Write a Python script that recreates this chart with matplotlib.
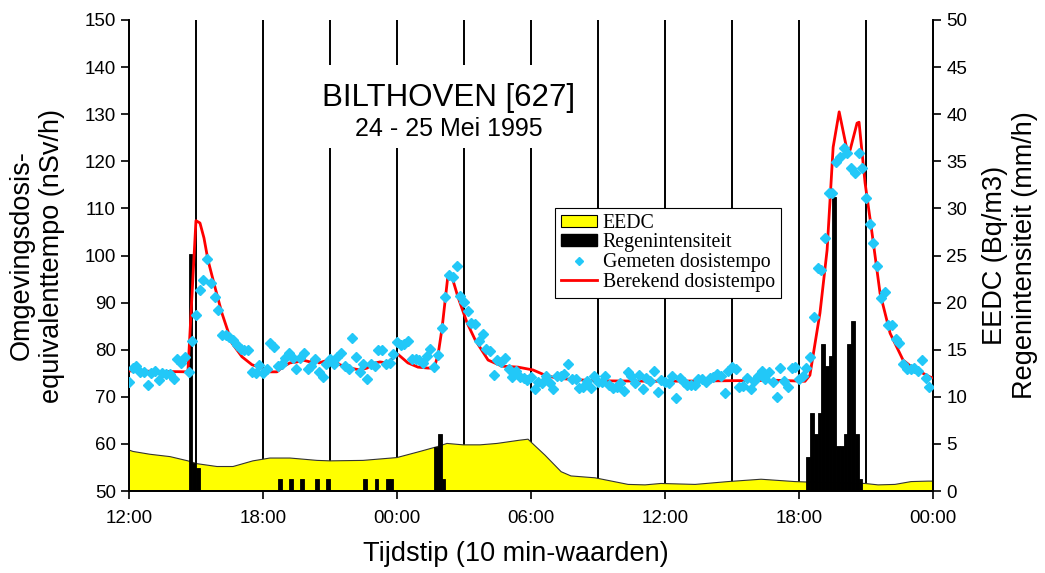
import matplotlib.pyplot as plt
from matplotlib.patches import Patch, Rectangle
from matplotlib.lines import Line2D

plt.rcParams['font.family'] = ['Liberation Sans', 'DejaVu Sans']

# gemeten dosistempo, 10-min waarden vanaf 12:00 (nSv/h)
gemeten = [
    73.2, 76.1, 76.6, 75.3, 75.3, 72.5, 75.0, 75.5, 73.6, 75.0, 74.8, 74.8, 73.8, 78.0, 77.2, 78.5, 75.3, 81.9,
    87.4, 92.7, 94.8, 99.3, 94.1, 91.1, 88.4, 83.1, 83.2, 82.8, 82.0, 80.9, 80.1, 80.0, 80.0, 75.3, 75.0, 76.8,
    75.0, 75.9, 81.4, 80.5, 76.5, 76.9, 78.2, 79.4, 78.2, 75.9, 78.2, 79.4, 75.9, 76.5, 78.0, 75.3, 74.2, 77.0,
    78.0, 77.0, 78.4, 79.2, 76.5, 75.9, 82.5, 78.4, 75.3, 77.0, 73.8, 77.0, 76.5, 80.0, 80.0, 77.0, 77.2, 79.1,
    81.6, 81.0, 81.2, 81.8, 78.0, 78.0, 77.8, 77.2, 78.7, 80.2, 76.4, 78.9, 84.6, 91.2, 95.9, 95.5, 97.8, 91.4,
    90.1, 88.2, 85.7, 85.5, 81.8, 83.3, 80.2, 79.8, 74.6, 77.8, 77.4, 78.2, 75.9, 74.2, 75.5, 74.2, 74.0, 73.6,
    74.2, 71.6, 73.1, 73.0, 74.4, 72.9, 71.6, 74.4, 74.4, 74.8, 77.0, 73.8, 73.8, 71.9, 72.0, 73.3, 71.9, 74.4,
    73.1, 73.1, 74.4, 72.5, 71.9, 72.0, 73.0, 71.3, 75.3, 74.4, 73.0, 74.6, 71.6, 73.9, 73.3, 75.5, 71.1, 73.5,
    73.1, 73.0, 74.4, 69.7, 74.0, 73.1, 72.6, 72.5, 72.6, 73.7, 73.8, 73.1, 74.0, 74.1, 74.8, 74.5, 70.8, 75.5,
    76.4, 75.8, 72.1, 72.3, 74.0, 71.6, 73.3, 74.4, 75.5, 73.8, 75.3, 73.1, 69.9, 76.1, 73.3, 72.0, 76.1, 76.4,
    73.8, 74.5, 76.1, 78.5, 87.0, 97.3, 97.0, 103.7, 113.3, 113.3, 119.9, 120.9, 122.8, 121.8, 118.6, 117.5, 121.8, 118.6,
    112.2, 106.7, 102.7, 97.8, 91.0, 92.3, 85.2, 85.2, 82.3, 81.4, 77.0, 75.9, 75.9, 76.1, 75.5, 77.8, 74.0, 72.1,
]
gemeten_t = [i / 6 for i in range(len(gemeten))]

# berekend dosistempo (uur na 12:00, nSv/h)
berekend_t = [0, 2.64, 3.0, 3.18, 3.36, 3.54, 3.85, 4.16, 4.61, 5.06, 5.51, 5.96, 6.18, 6.63, 6.9, 7.21, 7.52,
              7.79, 8.11, 8.33, 8.51, 8.78, 9.0, 9.45, 9.9, 10.34, 10.66, 11.02, 11.24, 11.55, 11.82, 12.05,
              12.49, 12.94, 13.39, 13.66, 13.84, 14.02, 14.29, 14.46, 14.73, 15.14, 15.5, 16.08, 16.7, 17.42,
              18.09, 18.63, 19.21, 20.87, 23.82, 26.5, 29.0, 30.27, 30.49, 30.94, 31.26, 31.53, 31.8, 32.15,
              32.29, 32.6, 32.69, 32.96, 33.27, 33.63, 34.08, 34.66, 35.11, 35.87, 36]
berekend = [75.5, 75.3, 107.4, 106.9, 103.7, 99.0, 93.3, 87.8, 81.4, 78.5, 76.8, 76.1, 75.3, 75.3, 76.4, 77.2, 77.4,
            77.8, 77.4, 77.9, 77.2, 77.6, 78.2, 76.8, 76.1, 75.7, 76.1, 77.2, 77.4, 77.2, 78.2, 79.0,
            77.2, 76.3, 76.1, 76.1, 78.9, 84.6, 96.1, 95.5, 91.2, 85.7, 82.1, 77.8, 76.5, 76.3,
            75.7, 74.6, 73.9, 73.4, 73.3, 73.4, 73.5, 73.3, 74.6, 87.8, 101.2, 123.0, 130.5, 122.4,
            122.4, 128.1, 128.3, 115.4, 104.8, 92.0, 83.5, 77.8, 76.1, 74.2, 74.0]

# EEDC (Bq/m3)
eedc_t = [0, 0.18, 0.94, 1.84, 2.64, 3.05, 3.94, 4.66, 5.55, 6.31, 7.21, 8.42, 9.0, 10.48, 12.0, 13.03, 13.79,
          14.24, 14.96, 15.72, 16.48, 17.51, 17.87, 18.0, 18.63, 19.35, 19.79, 20.87, 22.35, 23.11, 23.82,
          25.35, 26.82, 28.3, 29.82, 30.41, 32.96, 33.54, 34.3, 35.02, 35.78, 36]
eedc = [4.35, 4.2, 3.9, 3.65, 3.2, 2.9, 2.6, 2.6, 3.2, 3.5, 3.5, 3.25, 3.2, 3.25, 3.55, 4.2, 4.7,
        5.05, 4.9, 4.9, 5.05, 5.4, 5.5, 5.2, 3.8, 2.05, 1.6, 1.4, 0.7, 0.65, 0.8,
        0.7, 1.0, 1.25, 1.0, 0.95, 0.8, 0.65, 0.7, 1.0, 1.05, 1.05]

# regenintensiteit (mm/h), begin van elk 10-min interval
regen_t = [2.667, 2.833, 3.0, 6.667, 7.167, 7.667, 8.333, 8.833, 10.5, 11.0, 11.5, 11.667,
           13.667, 13.833, 14.0,
           30.333, 30.5, 30.667, 30.833, 31.0, 31.167, 31.333, 31.5, 31.667, 31.833, 32.0, 32.167, 32.333,
           32.5, 32.667]
regen = [25.2, 3.0, 2.4, 1.3, 1.3, 1.3, 1.3, 1.3, 1.3, 1.3, 1.3, 1.3,
         4.7, 6.0, 1.3,
         3.6, 8.3, 6.1, 8.3, 15.6, 13.3, 14.3, 31.2, 4.8, 4.8, 6.0, 15.6, 18.0, 6.0, 1.3]

tijd_ticks = [0, 6, 12, 18, 24, 30, 36]
tijd_labels = ['12:00', '18:00', '00:00', '06:00', '12:00', '18:00', '00:00']

fig = plt.figure(figsize=(10.45, 5.73), dpi=100)
ax = fig.add_axes([0.1234, 0.1431, 0.7694, 0.8220])
ax2 = ax.twinx()
ax.set_zorder(ax2.get_zorder() + 1)
ax.patch.set_visible(False)

# verticale hulplijnen elke 3 uur
for x in range(3, 36, 3):
    ax2.axvline(x, color='black', lw=1.4, zorder=0)

ax2.fill_between(eedc_t, 0, eedc, facecolor='#FFFF00', edgecolor='none', zorder=1)
ax2.plot(eedc_t, eedc, color='#333333', lw=0.8, zorder=1.5)
ax2.bar(regen_t, regen, width=1/6, align='edge', color='black', edgecolor='black', lw=0.6, zorder=2)

ax.plot(berekend_t, berekend, color='#FF0000', lw=2, zorder=3)
ax.plot(gemeten_t, gemeten, ls='none', marker='D', ms=4.7, color='#22C8F8', mec='#22C8F8', zorder=4)

ax.set_xlim(0, 36)
ax.set_ylim(50, 150)
ax2.set_ylim(0, 50)
ax.set_yticks(range(50, 151, 10))
ax2.set_yticks(range(0, 51, 5))
ax.set_xticks(tijd_ticks)
ax.set_xticklabels(tijd_labels)
for a in (ax, ax2):
    a.spines['top'].set_visible(False)
    a.tick_params(labelsize=13.5, length=6, width=1.2, direction='out')
    for s in a.spines.values():
        s.set_linewidth(1.3)
ax.tick_params(axis='x', pad=8)

ax.set_xlabel('Tijdstip (10 min-waarden)', fontsize=19.5)
ax.xaxis.set_label_coords(0.481, -0.106)
ax.set_ylabel('Omgevingsdosis-\nequivalenttempo (nSv/h)', fontsize=19.5)
ax.yaxis.set_label_coords(-0.08, 0.5)
ax2.set_ylabel('EEDC (Bq/m3)\nRegenintensiteit (mm/h)', fontsize=19.5)
ax2.yaxis.set_label_coords(1.061, 0.5)

# witte achtergrond achter de titel
ax.add_patch(Rectangle((0.2276, 0.728), 0.339, 0.1765, transform=ax.transAxes,
                       facecolor='white', edgecolor='none', zorder=2))
ax.text(0.398, 0.835, 'BILTHOVEN [627]', transform=ax.transAxes, ha='center', va='center',
        fontsize=22.5, zorder=6)
ax.text(0.398, 0.768, '24 - 25 Mei 1995', transform=ax.transAxes, ha='center', va='center',
        fontsize=18, zorder=6)

handles = [Patch(facecolor='#FFFF00', edgecolor='black', lw=0.8),
           Patch(facecolor='black', edgecolor='black'),
           Line2D([], [], ls='none', marker='D', ms=4.5, color='#22C8F8'),
           Line2D([], [], color='#FF0000', lw=2)]
leg = ax.legend(handles, ['EEDC', 'Regenintensiteit', 'Gemeten dosistempo', 'Berekend dosistempo'],
                loc='upper left', bbox_to_anchor=(0.53, 0.601), fancybox=False, framealpha=1,
                edgecolor='black', prop={'family': 'Liberation Serif', 'size': 14.3},
                handlelength=1.8, handleheight=0.55, labelspacing=0.03, borderpad=0.3,
                handletextpad=0.3, borderaxespad=0)
leg.get_frame().set_linewidth(0.8)
leg.set_zorder(10)

fig.savefig('out.png', dpi=100)
